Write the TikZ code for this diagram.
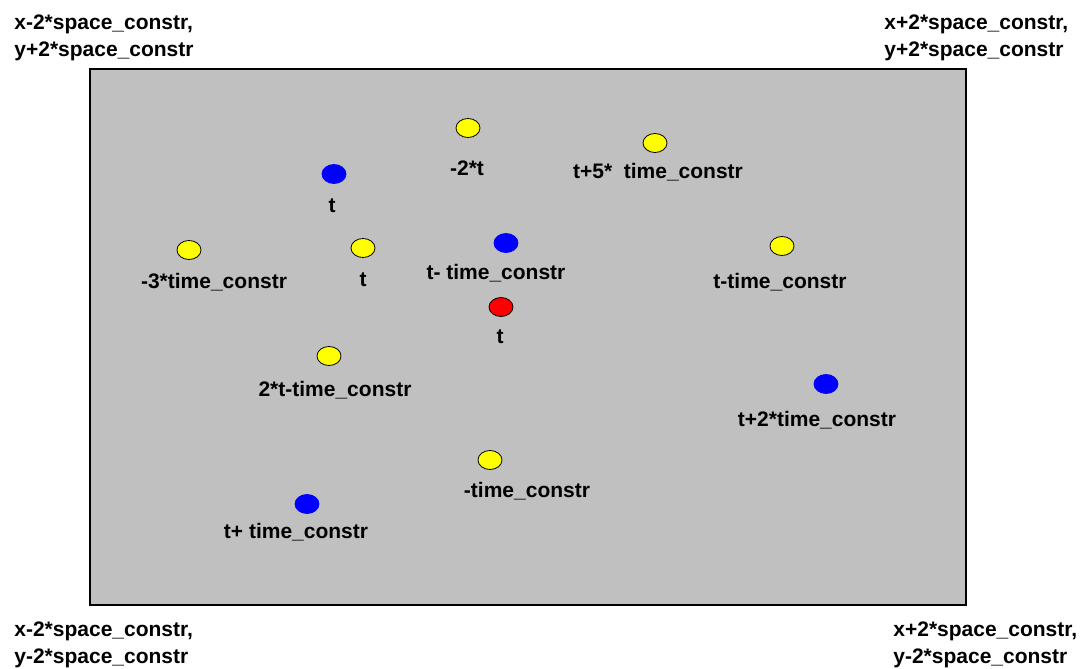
\documentclass[tikz,border=0pt]{standalone}
\usepackage{fontspec}
\setmainfont{Liberation Sans}
\usepackage{tikz}
\usetikzlibrary{shapes.geometric}

\definecolor{panelgray}{RGB}{192,192,192}
\definecolor{dotyellow}{RGB}{255,255,0}
\definecolor{dotblue}{RGB}{0,0,255}
\definecolor{dotred}{RGB}{255,0,0}

\tikzset{
  dot/.style={ellipse, draw=black, minimum width=12pt, minimum height=9.5pt, inner sep=0pt},
  ydot/.style={dot, fill=dotyellow},
  bdot/.style={dot, fill=dotblue, draw=dotblue},
  rdot/.style={dot, fill=dotred},
  lbl/.style={font=\fontsize{10.5}{13}\selectfont\bfseries, inner sep=0pt},
  corner/.style={lbl, align=left, anchor=west, font=\fontsize{10.5}{13.5}\selectfont\bfseries}
}

\begin{document}
\begin{tikzpicture}[x=0.5pt,y=-0.5pt]
\useasboundingbox (0,0) rectangle (1084,669);

% the panel
\draw [line width=1.2pt, fill=panelgray] (90,69) rectangle (966,605);

% corner labels
\node[corner] (tl) at (14,38) {x-2*space\_constr,\\y+2*space\_constr};
\node[corner] (tr) at (884,38) {x+2*space\_constr,\\y+2*space\_constr};
\node[corner] (bl) at (14,645) {x-2*space\_constr,\\y-2*space\_constr};
\node[corner] (br) at (893,645) {x+2*space\_constr,\\y-2*space\_constr};

% yellow points
\node[ydot] (y1) at (468,128) {};
\node[lbl] (ly1) at (467,168) {-2*t};
\node[ydot] (y2) at (655,143) {};
\node[lbl] (ly2) at (658,172) {t+5*\ \ time\_constr};
\node[ydot] (y3) at (189,250) {};
\node[lbl] (ly3) at (214,282) {-3*time\_constr};
\node[ydot] (y4) at (363,248) {};
\node[lbl] (ly4) at (363,280) {t};
\node[ydot] (y5) at (782,246) {};
\node[lbl] (ly5) at (780,282) {t-time\_constr};
\node[ydot] (y6) at (329,356) {};
\node[lbl] (ly6) at (335,390) {2*t-time\_constr};
\node[ydot] (y7) at (490,460) {};
\node[lbl] (ly7) at (527,491) {-time\_constr};

% blue points
\node[bdot] (b1) at (334,174) {};
\node[lbl] (lb1) at (332,206) {t};
\node[bdot] (b2) at (506,243) {};
\node[lbl] (lb2) at (496,273) {t- time\_constr};
\node[bdot] (b3) at (826,384) {};
\node[lbl] (lb3) at (817,420) {t+2*time\_constr};
\node[bdot] (b4) at (307,504) {};
\node[lbl] (lb4) at (296,532) {t+ time\_constr};

% red point
\node[rdot] (r1) at (501,307) {};
\node[lbl] (lr1) at (500,337) {t};
\end{tikzpicture}
\end{document}
